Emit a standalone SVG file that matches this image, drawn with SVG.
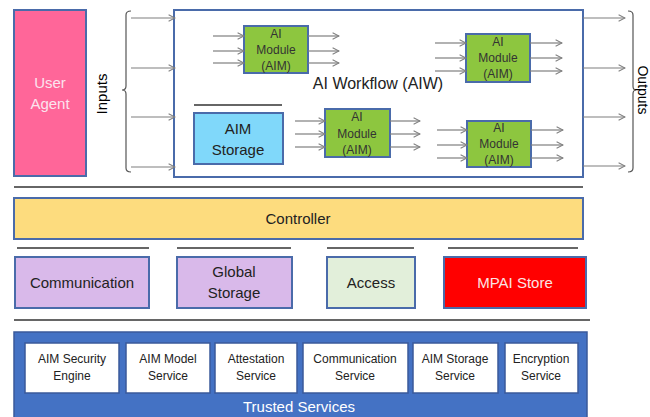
<svg xmlns="http://www.w3.org/2000/svg" width="650" height="417" viewBox="0 0 650 417">
<defs>
<marker id="ah" viewBox="0 0 10 10" refX="9" refY="5" markerWidth="8" markerHeight="8" orient="auto" markerUnits="userSpaceOnUse">
<path d="M1,1 L9,5 L1,9" fill="none" stroke="#7f7f7f" stroke-width="1.3"/>
</marker>
<style>
.t{font-family:"Liberation Sans","Open Sans",Arial,sans-serif;text-anchor:middle;}
.box{stroke:#4A6BAA;stroke-width:2;}
.aim{fill:#8DC63F;stroke:#4A6BAA;stroke-width:2;}
.arr{stroke:#7f7f7f;stroke-width:1.2;fill:none;marker-end:url(#ah);}
.sep{stroke:#333;stroke-width:1.6;}
.brace{fill:none;stroke:#555;stroke-width:1.2;}
.svc{fill:#fff;stroke:#3A5A9A;stroke-width:1.5;}
</style>
</defs>
<rect width="650" height="417" fill="#fff"/>

<g id="user-agent">
<rect class="box" x="14" y="10" width="72" height="166" fill="#FF6699"/>
<text class="t" x="50" y="88" font-size="15" fill="#FBE4EE">User</text>
<text class="t" x="50" y="109" font-size="15" fill="#FBE4EE">Agent</text>
</g>

<g id="inputs-label">
<text class="t" transform="translate(107,94) rotate(-90)" font-size="15" fill="#000">Inputs</text>
<path class="brace" d="M131,11 Q126,11 126,15 L126,86 Q126,90 122,90 Q126,90 126,94 L126,168 Q126,172 131,172"/>
</g>

<g id="aiw">
<rect x="174" y="10" width="409" height="167" fill="#fff" stroke="#4A6BAA" stroke-width="2"/>
<text class="t" x="378" y="89" font-size="16" fill="#222">AI Workflow (AIW)</text>
</g>

<g id="aim1">
<rect class="aim" x="244" y="26" width="64" height="47"/>
<text class="t" x="276" y="38" font-size="12" fill="#333">AI</text>
<text class="t" x="276" y="54" font-size="12" fill="#333">Module</text>
<text class="t" x="276" y="70" font-size="12" fill="#333">(AIM)</text>
</g>
<g id="aim2">
<rect class="aim" x="466" y="34" width="64" height="48"/>
<text class="t" x="498" y="46" font-size="12" fill="#333">AI</text>
<text class="t" x="498" y="62" font-size="12" fill="#333">Module</text>
<text class="t" x="498" y="78" font-size="12" fill="#333">(AIM)</text>
</g>
<g id="aim3">
<rect class="aim" x="325" y="109" width="65" height="48"/>
<text class="t" x="357" y="121" font-size="12" fill="#333">AI</text>
<text class="t" x="357" y="138" font-size="12" fill="#333">Module</text>
<text class="t" x="357" y="154" font-size="12" fill="#333">(AIM)</text>
</g>
<g id="aim4">
<rect class="aim" x="467" y="121" width="64" height="46"/>
<text class="t" x="499" y="132" font-size="12" fill="#333">AI</text>
<text class="t" x="499" y="148" font-size="12" fill="#333">Module</text>
<text class="t" x="499" y="164" font-size="12" fill="#333">(AIM)</text>
</g>

<g id="aim-storage">
<line class="sep" x1="194" y1="105" x2="282" y2="105"/>
<rect class="box" x="194" y="113" width="89" height="51" fill="#80D8FA"/>
<text class="t" x="238" y="134" font-size="15" fill="#222">AIM</text>
<text class="t" x="238" y="155" font-size="15" fill="#222">Storage</text>
</g>

<g id="outputs-label">
<path class="brace" d="M628,11 Q633,11 633,15 L633,86 Q633,90 636,90 Q633,90 633,94 L633,168 Q633,172 628,172"/>
<text class="t" transform="translate(638,90) rotate(90)" font-size="14" fill="#000">Outputs</text>
</g>

<g id="connectors">
<line class="arr" x1="131" y1="18" x2="175" y2="18"/>
<line class="arr" x1="131" y1="68" x2="175" y2="68"/>
<line class="arr" x1="131" y1="117" x2="175" y2="117"/>
<line class="arr" x1="131" y1="167" x2="175" y2="167"/>
<line class="arr" x1="583" y1="18" x2="625" y2="18"/>
<line class="arr" x1="583" y1="68" x2="625" y2="68"/>
<line class="arr" x1="583" y1="117" x2="625" y2="117"/>
<line class="arr" x1="583" y1="166" x2="625" y2="166"/>
<line class="arr" x1="213" y1="36" x2="244" y2="36"/>
<line class="arr" x1="213" y1="51" x2="244" y2="51"/>
<line class="arr" x1="213" y1="63" x2="244" y2="63"/>
<line class="arr" x1="308" y1="36" x2="339" y2="36"/>
<line class="arr" x1="308" y1="51" x2="339" y2="51"/>
<line class="arr" x1="308" y1="63" x2="339" y2="63"/>
<line class="arr" x1="435" y1="43" x2="466" y2="43"/>
<line class="arr" x1="435" y1="58" x2="466" y2="58"/>
<line class="arr" x1="435" y1="71" x2="466" y2="71"/>
<line class="arr" x1="530" y1="43" x2="562" y2="43"/>
<line class="arr" x1="530" y1="58" x2="562" y2="58"/>
<line class="arr" x1="530" y1="71" x2="562" y2="71"/>
<line class="arr" x1="295" y1="121" x2="325" y2="121"/>
<line class="arr" x1="295" y1="134" x2="325" y2="134"/>
<line class="arr" x1="295" y1="147" x2="325" y2="147"/>
<line class="arr" x1="390" y1="121" x2="420" y2="121"/>
<line class="arr" x1="390" y1="134" x2="420" y2="134"/>
<line class="arr" x1="390" y1="147" x2="420" y2="147"/>
<line class="arr" x1="437" y1="130" x2="467" y2="130"/>
<line class="arr" x1="437" y1="145" x2="467" y2="145"/>
<line class="arr" x1="437" y1="158" x2="467" y2="158"/>
<line class="arr" x1="531" y1="130" x2="563" y2="130"/>
<line class="arr" x1="531" y1="145" x2="563" y2="145"/>
<line class="arr" x1="531" y1="158" x2="563" y2="158"/>
</g>

<g id="separators">
<line class="sep" x1="14" y1="187" x2="583" y2="187"/>
<line class="sep" x1="17" y1="248" x2="149" y2="248"/>
<line class="sep" x1="177" y1="248" x2="291" y2="248"/>
<line class="sep" x1="327" y1="248" x2="414" y2="248"/>
<line class="sep" x1="448" y1="248" x2="578" y2="248"/>
<line class="sep" x1="14" y1="320" x2="590" y2="320"/>
</g>

<g id="controller">
<rect class="box" x="14" y="198" width="569" height="41" fill="#FDDC7E"/>
<text class="t" x="298" y="224" font-size="15" fill="#222">Controller</text>
</g>

<g id="communication">
<rect class="box" x="15" y="257" width="134" height="51" fill="#D9B9EA"/>
<text class="t" x="82" y="288" font-size="15" fill="#222">Communication</text>
</g>
<g id="global-storage">
<rect class="box" x="177" y="257" width="115" height="51" fill="#D9B9EA"/>
<text class="t" x="234" y="277" font-size="15" fill="#222">Global</text>
<text class="t" x="234" y="298" font-size="15" fill="#222">Storage</text>
</g>
<g id="access">
<rect class="box" x="327" y="257" width="88" height="51" fill="#E2EFDA"/>
<text class="t" x="371" y="288" font-size="15" fill="#222">Access</text>
</g>
<g id="mpai-store">
<rect class="box" x="444" y="257" width="142" height="51" fill="#FF0000"/>
<text class="t" x="515" y="288" font-size="15" fill="#FBE4E4">MPAI Store</text>
</g>

<g id="trusted-services">
<rect x="14" y="332" width="573" height="90" fill="#4472C4" stroke="#3A5A9A" stroke-width="1.5"/>
<text class="t" x="299" y="412" font-size="15" fill="#fff">Trusted Services</text>
</g>
<g id="aim-security-engine">
<rect class="svc" x="25" y="343" width="94" height="50"/>
<text class="t" x="72" y="363" font-size="12" fill="#222">AIM Security</text>
<text class="t" x="72" y="380" font-size="12" fill="#222">Engine</text>
</g>
<g id="aim-model-service">
<rect class="svc" x="126" y="343" width="84" height="50"/>
<text class="t" x="168" y="363" font-size="12" fill="#222">AIM Model</text>
<text class="t" x="168" y="380" font-size="12" fill="#222">Service</text>
</g>
<g id="attestation-service">
<rect class="svc" x="215" y="343" width="82" height="50"/>
<text class="t" x="256" y="363" font-size="12" fill="#222">Attestation</text>
<text class="t" x="256" y="380" font-size="12" fill="#222">Service</text>
</g>
<g id="communication-service">
<rect class="svc" x="303" y="343" width="105" height="50"/>
<text class="t" x="355" y="363" font-size="12" fill="#222">Communication</text>
<text class="t" x="355" y="380" font-size="12" fill="#222">Service</text>
</g>
<g id="aim-storage-service">
<rect class="svc" x="413" y="343" width="85" height="50"/>
<text class="t" x="455" y="363" font-size="12" fill="#222">AIM Storage</text>
<text class="t" x="455" y="380" font-size="12" fill="#222">Service</text>
</g>
<g id="encryption-service">
<rect class="svc" x="505" y="343" width="73" height="50"/>
<text class="t" x="541" y="363" font-size="12" fill="#222">Encryption</text>
<text class="t" x="541" y="380" font-size="12" fill="#222">Service</text>
</g>
</svg>
